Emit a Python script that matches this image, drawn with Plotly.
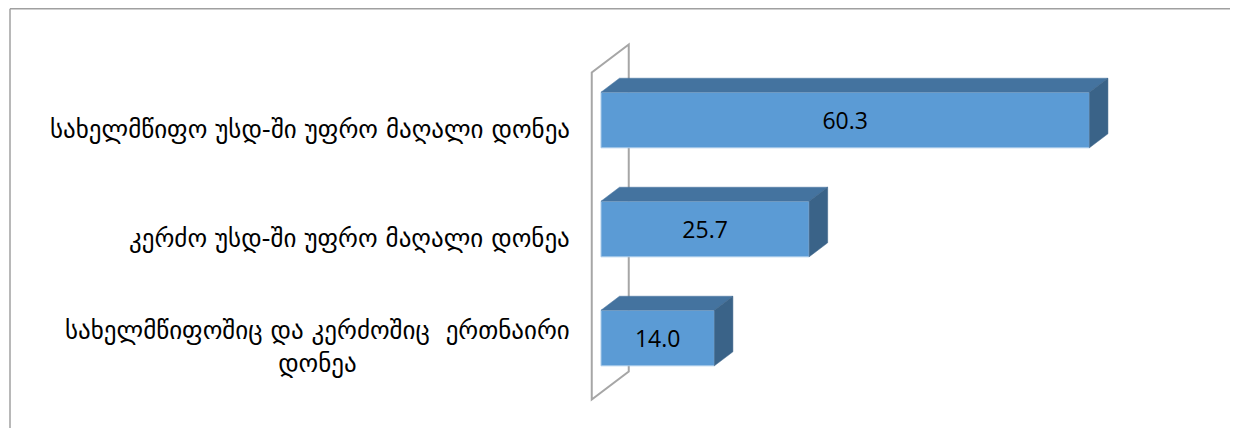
import plotly.graph_objects as go

# categories from bottom to top (as drawn on the category axis)
categories = [
    "სახელმწიფოშიც და კერძოშიც  ერთნაირი<br>დონეა",
    "კერძო უსდ-ში უფრო მაღალი დონეა",
    "სახელმწიფო უსდ-ში უფრო მაღალი დონეა",
]
values = [14.0, 25.7, 60.3]

# the page body adds an 8px margin, so pixel targets are shifted by -8
W, H = 1238, 428
PX_X = 8.1      # pixels per value unit
PX_Y = 109.0    # pixels per category
L, R, T, B = 552, 8, 30, 18
X0_PX = 593     # pixel where value 0 sits on the bar front plane
TOP_CAT_PX = 112

plot_w = W - L - R
plot_h = H - T - B
xmin = -(X0_PX - L) / PX_X
xmax = xmin + plot_w / PX_X
ymax = (len(categories) - 1) + (TOP_CAT_PX - T) / PX_Y
ymin = ymax - plot_h / PX_Y

# 3d depth vector (full depth of the floor/wall), in data units
DDX = 37 / PX_X
DDY = 28 / PX_Y
BAR_W = 0.51

FRONT = "#5B9BD5"
TOP = "#44739F"
SIDE = "#3A6388"

fig = go.Figure()

ypos = list(range(len(categories)))

# front faces
fig.add_trace(go.Bar(
    x=values, y=ypos, orientation="h", width=BAR_W,
    marker=dict(color=FRONT, line=dict(color="#A9CBEA", width=1)),
    text=values, texttemplate="%{x:.1f}", textposition="inside",
    insidetextanchor="middle", textangle=0,
    textfont=dict(family="Open Sans", size=23, color="#000000"),
    hoverinfo="skip",
))

# top and side faces (bars sit in the middle half of the depth)
dx, dy = DDX * 0.5, DDY * 0.5
for v, c in zip(values, ypos):
    top = c + BAR_W / 2
    bot = c - BAR_W / 2
    fig.add_trace(go.Scatter(
        x=[0, v, v + dx, dx, 0], y=[top, top, top + dy, top + dy, top],
        mode="lines", fill="toself", fillcolor=TOP,
        line=dict(color=TOP, width=0.5), hoverinfo="skip", showlegend=False,
    ))
    fig.add_trace(go.Scatter(
        x=[v, v + dx, v + dx, v, v], y=[bot, bot + dy, top + dy, top, bot],
        mode="lines", fill="toself", fillcolor=SIDE,
        line=dict(color=SIDE, width=0.5), hoverinfo="skip", showlegend=False,
    ))

# wall at value 0, spanning all categories and the full depth
c0, c1 = -0.5, len(categories) - 0.5
fx, fy = -0.25 * DDX, -0.25 * DDY
bx, by = 0.75 * DDX, 0.75 * DDY
wall = (f"M {fx} {c0 + fy} L {fx} {c1 + fy} L {bx} {c1 + by} "
        f"L {bx} {c0 + by} Z")
shapes = [dict(type="path", path=wall, xref="x", yref="y", layer="below",
               line=dict(color="#A6A6A6", width=2), fillcolor="white")]

# outer chart border (top and left edges visible)
bx_p = (2 - L) / plot_w
by_p = 1 + (T - 0.75) / plot_h
shapes.append(dict(type="line", xref="paper", yref="paper",
                   x0=bx_p, x1=1.1, y0=by_p, y1=by_p,
                   line=dict(color="#A0A0A0", width=1.5)))
shapes.append(dict(type="line", xref="paper", yref="paper",
                   x0=bx_p, x1=bx_p, y0=by_p, y1=-0.2,
                   line=dict(color="#A0A0A0", width=1.5)))

annotations = []
label_x = (564 - X0_PX) / PX_X
for cat, c in zip(categories, ypos):
    annotations.append(dict(
        x=label_x, y=c, xref="x", yref="y", text=cat, showarrow=False,
        xanchor="right", yanchor="middle", align="center", yshift=-9,
        font=dict(family="DejaVu Sans", size=25, color="#000000"),
    ))

fig.update_layout(
    width=W, height=H,
    margin=dict(l=L, r=R, t=T, b=B),
    paper_bgcolor="white", plot_bgcolor="white",
    showlegend=False,
    shapes=shapes, annotations=annotations,
    xaxis=dict(range=[xmin, xmax], visible=False),
    yaxis=dict(range=[ymin, ymax], visible=False),
)

fig.write_html("out.html")
